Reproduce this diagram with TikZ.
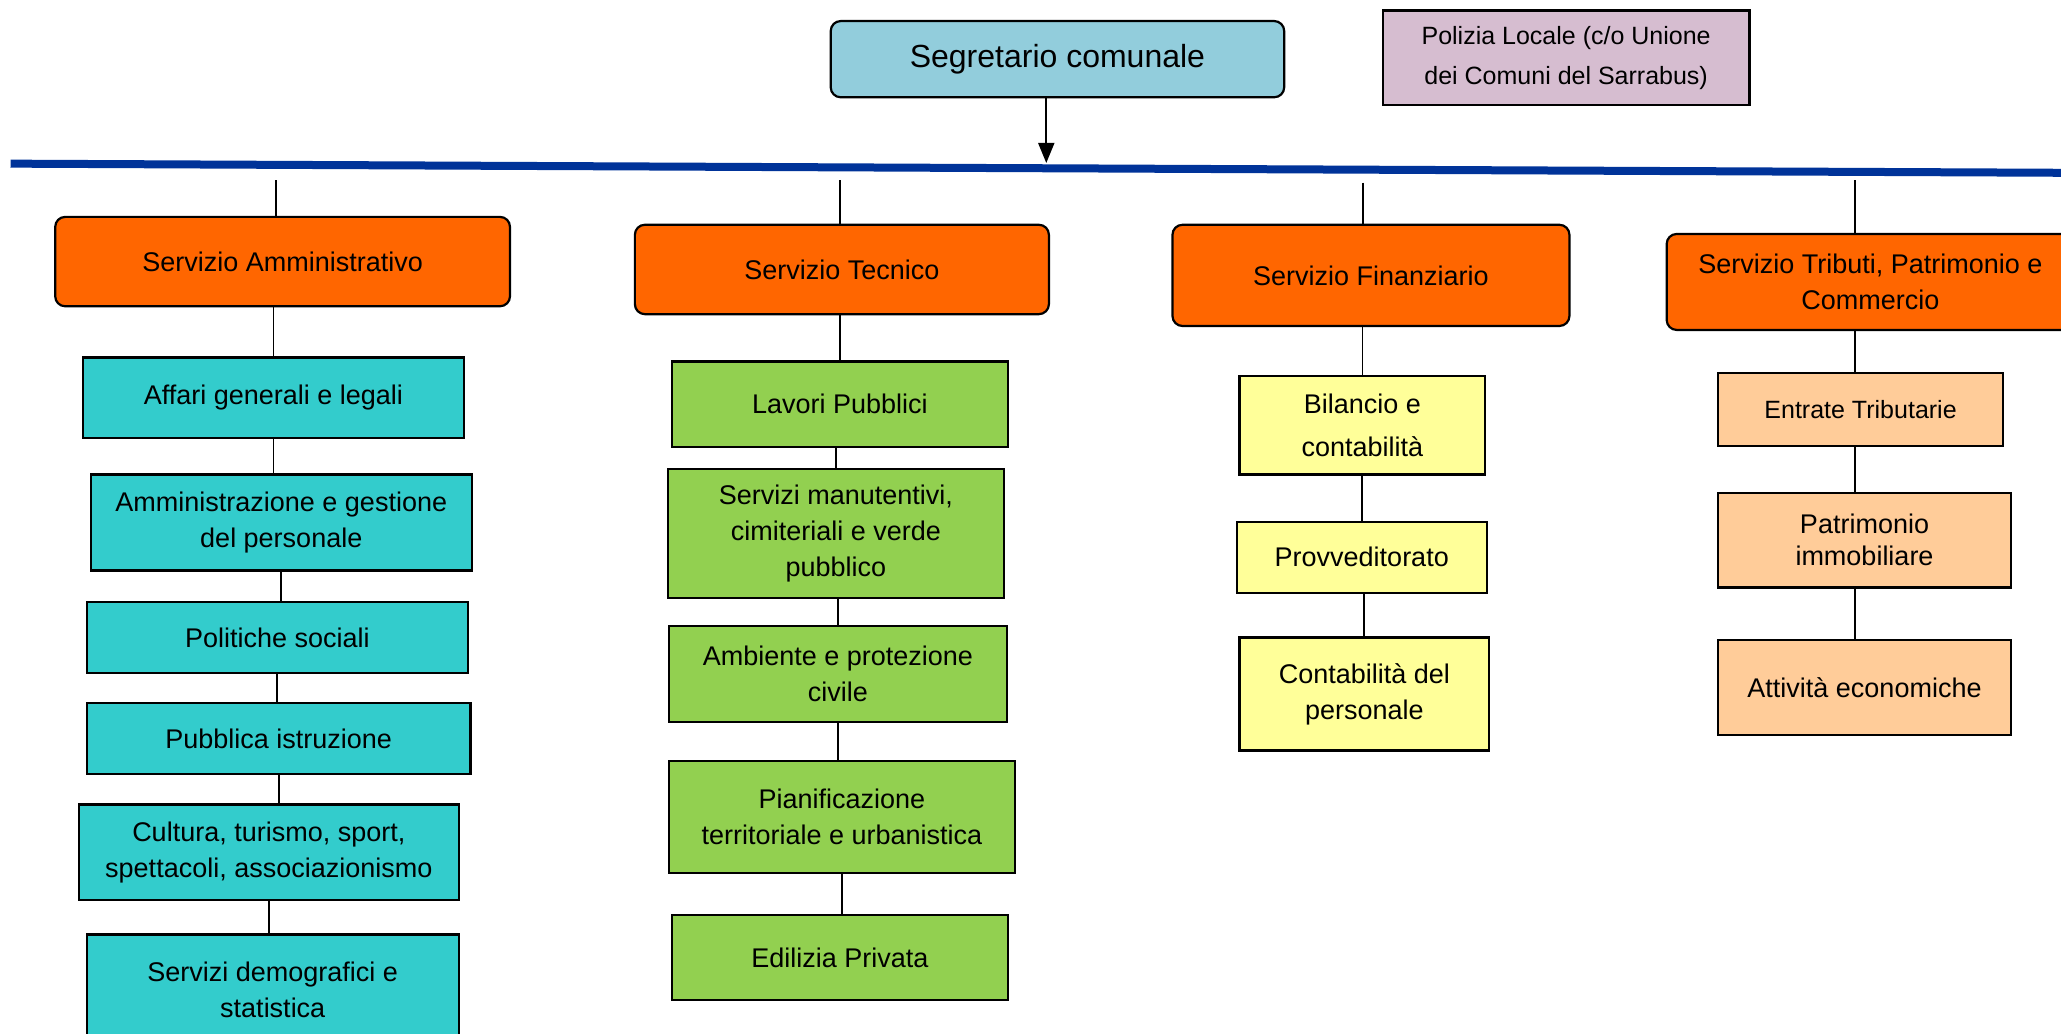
\documentclass[tikz,border=0pt]{standalone}
\usepackage{fontspec}
\setmainfont{Liberation Sans}
\usetikzlibrary{arrows.meta, positioning}
\definecolor{orangeS}{RGB}{255,102,0}
\definecolor{cyanA}{RGB}{51,204,204}
\definecolor{greenT}{RGB}{146,208,80}
\definecolor{yellowF}{RGB}{255,255,153}
\definecolor{peachC}{RGB}{255,204,153}
\definecolor{blueSeg}{RGB}{146,205,220}
\definecolor{lilaPol}{RGB}{214,189,208}
\definecolor{blueBus}{RGB}{0,51,153}
\newlength\pxu
\setlength\pxu{0.6572pt}

\begin{document}
\begin{tikzpicture}[x=0.6572pt, y=-0.6572pt,
  box/.style={draw=black, line width=1.1pt, align=center, inner sep=2pt, font=\fontsize{13.5}{18}\selectfont},
  head/.style={box, fill=orangeS, rounded corners=5pt},
  amm/.style={box, fill=cyanA},
  tec/.style={box, fill=greenT},
  fin/.style={box, fill=yellowF},
  trib/.style={box, fill=peachC},
  link/.style={line width=0.9pt},
  bus/.style={draw=blueBus, line width=4pt}]
  \clip (0,0) rectangle (1568,786);

  \node[box, fill=blueSeg, rounded corners=5pt, font=\fontsize{16}{19}\selectfont, minimum width=345*\pxu, minimum height=58*\pxu] (segr) at (804.5,45) {Segretario comunale};
  \node[box, fill=lilaPol, font=\fontsize{12.5}{20}\selectfont, minimum width=279*\pxu, minimum height=72*\pxu] (poli) at (1191.5,44) {Polizia Locale (c/o Unione\\dei Comuni del Sarrabus)};

  \coordinate (busL) at (8,124.5);
  \coordinate (busR) at (1580,131.5);
  \draw[bus] (busL) -- (busR);
  \coordinate (busin) at (796,124);
  \draw[link, -{Triangle[length=10pt, width=8pt]}] (segr.south -| busin) -- (busin);

  % servizi
  \node[head, minimum width=346*\pxu, minimum height=68*\pxu] (amm) at (215,199) {Servizio Amministrativo};
  \node[head, minimum width=315*\pxu, minimum height=68*\pxu] (tec) at (640.5,205) {Servizio Tecnico};
  \node[head, minimum width=302*\pxu, minimum height=77*\pxu] (fin) at (1043,209.5) {Servizio Finanziario};
  \node[head, minimum width=310*\pxu, minimum height=73*\pxu] (trib) at (1423,214.5) {Servizio Tributi, Patrimonio e\\Commercio};

  \coordinate (tA) at (210,137);
  \coordinate (tT) at (639,137);
  \coordinate (tF) at (1037,139);
  \coordinate (tR) at (1411,137);
  \draw[link] (tA) -- (tA |- amm.north);
  \draw[link] (tT) -- (tT |- tec.north);
  \draw[link] (tF) -- (tF |- fin.north);
  \draw[link] (tR) -- (tR |- trib.north);

  % amministrativo
  \node[amm, minimum width=290*\pxu, minimum height=61*\pxu] (aff) at (208,302.5) {Affari generali e legali};
  \node[amm, minimum width=290*\pxu, minimum height=73*\pxu] (pers) at (214,397.5) {Amministrazione e gestione\\del personale};
  \node[amm, minimum width=290*\pxu, minimum height=54*\pxu] (soc) at (211,485) {Politiche sociali};
  \node[amm, minimum width=292*\pxu, minimum height=54*\pxu] (istr) at (212,562) {Pubblica istruzione};
  \node[amm, minimum width=289*\pxu, minimum height=73*\pxu] (cult) at (204.5,648.5) {Cultura, turismo, sport,\\spettacoli, associazionismo};
  \node[amm, minimum width=283*\pxu, minimum height=84*\pxu] (demo) at (207.5,753) {Servizi demografici e\\statistica};

  % tecnico
  \node[tec, minimum width=256*\pxu, minimum height=65*\pxu] (lav) at (639,307.5) {Lavori Pubblici};
  \node[tec, minimum width=256*\pxu, minimum height=98*\pxu] (man) at (636,406) {Servizi manutentivi,\\cimiteriali e verde\\pubblico};
  \node[tec, minimum width=257*\pxu, minimum height=73*\pxu] (amb) at (637.5,512.5) {Ambiente e protezione\\civile};
  \node[tec, minimum width=263*\pxu, minimum height=85*\pxu] (pian) at (640.5,621.5) {Pianificazione\\territoriale e urbanistica};
  \node[tec, minimum width=256*\pxu, minimum height=65*\pxu] (edil) at (639,728.5) {Edilizia Privata};

  % finanziario
  \node[fin, font=\fontsize{13.5}{21.5}\selectfont, minimum width=187*\pxu, minimum height=75*\pxu] (bil) at (1036.5,323.5) {Bilancio e\\contabilità};
  \node[fin, minimum width=190*\pxu, minimum height=54*\pxu] (prov) at (1036,424) {Provveditorato};
  \node[fin, minimum width=190*\pxu, minimum height=86*\pxu] (cont) at (1038,528) {Contabilità del\\personale};

  % tributi
  \node[trib, font=\fontsize{12.5}{16}\selectfont, minimum width=217*\pxu, minimum height=55*\pxu] (entr) at (1415.5,311.5) {Entrate Tributarie};
  \node[trib, font=\fontsize{13.5}{16}\selectfont, minimum width=223*\pxu, minimum height=72*\pxu] (patr) at (1418.5,411) {Patrimonio\\immobiliare};
  \node[trib, minimum width=223*\pxu, minimum height=72*\pxu] (att) at (1418.5,523) {Attività economiche};

  \draw[link] (aff.north |- amm.south) -- (aff.north);
  \draw[link] (pers.north -| aff.south) -- (aff.south);
  \draw[link] (soc.north -| pers.south) -- (pers.south);
  \draw[link] (istr.north -| soc.south) -- (soc.south);
  \draw[link] (cult.north -| istr.south) -- (istr.south);
  \draw[link] (demo.north -| cult.south) -- (cult.south);

  \draw[link] (lav.north -| tT) -- (tT |- tec.south);
  \draw[link] (man.north |- lav.south) -- (man.north);
  \draw[link] (amb.north |- man.south) -- (amb.north);
  \draw[link] (amb.south -| amb.north) -- (amb.south |- pian.north);
  \draw[link] (edil.north -| pian.south) -- (pian.south);

  \draw[link] (bil.north |- fin.south) -- (bil.north);
  \draw[link] (prov.north |- bil.south) -- (prov.north);
  \draw[link] (cont.north |- prov.south) -- (cont.north);

  \draw[link] (tR |- trib.south) -- (tR |- entr.north);
  \draw[link] (tR |- entr.south) -- (tR |- patr.north);
  \draw[link] (tR |- patr.south) -- (tR |- att.north);
\end{tikzpicture}
\end{document}
